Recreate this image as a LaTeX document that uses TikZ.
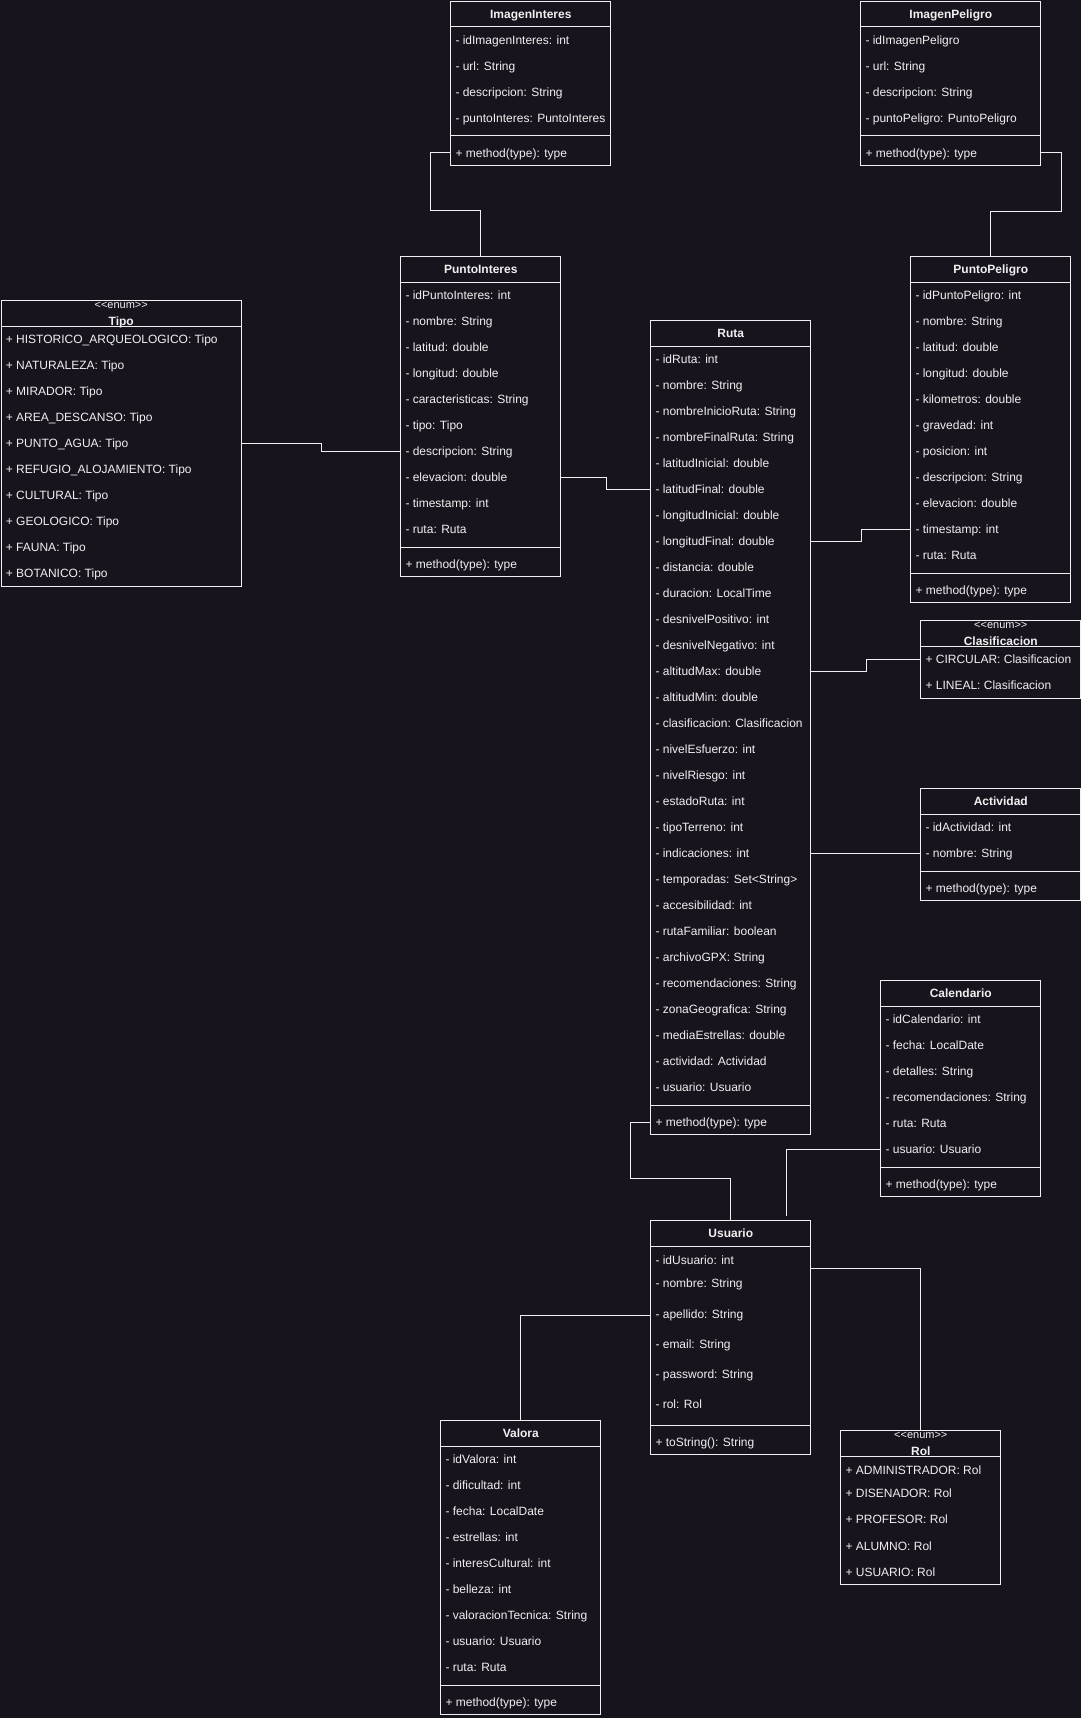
\documentclass[tikz,border=0pt]{standalone}
\usepackage{fontspec}
\setmainfont{Liberation Sans}
\usetikzlibrary{calc}

\definecolor{umlbg}{HTML}{18141D}
\definecolor{umlline}{HTML}{F0F0F0}
\definecolor{umltext}{HTML}{F0F0F0}

\tikzset{
  box/.style={draw=umlline, line width=1pt, anchor=north west, minimum width=160pt, inner sep=0pt},
  title/.style={text=umltext, font=\fontsize{12}{14}\selectfont\bfseries, inner sep=0pt, text height=9pt, text depth=0pt},
  stereo/.style={text=umltext, font=\fontsize{11}{13}\selectfont, inner sep=0pt, text height=5.6pt, text depth=0pt},
  field/.style={anchor=west, text=umltext, font=\fontsize{12}{14}\selectfont, inner sep=0pt, text height=9pt, text depth=0pt},
  link/.style={draw=umlline, line width=1pt},
}

\begin{document}
\begin{tikzpicture}[x=1pt,y=-1pt]
\def\classframe#1#2#3#4{ % #1 Name, #2 Top left, #3 Number of fields, #4 Title
\node[box, minimum height={60+26*#3}] (#1) at (#2) {};
\node[title] at ($(#1.north)+(0,13)$) {#4};
\draw[link] ($(#1.north west)+(0,26)$) -- ($(#1.north east)+(0,26)$);
\draw[link] ($(#1.south west)+(0,-30)$) -- ($(#1.south east)+(0,-30)$);
\node[field] (#1m) at ($(#1.south west)+(5,-13)$) {+ method(type): type};
}
\def\enumframe#1#2#3#4#5{ % #1 Name, #2 Top left, #3 Width, #4 Height, #5 Title
\node[box, minimum width=#3, minimum height=#4] (#1) at (#2) {};
\node[stereo] at ($(#1.north)+(0,5.4)$) {<\kern0pt<enum>\kern0pt>};
\node[title] at ($(#1.north)+(0,20.7)$) {#5};
\draw[link] ($(#1.north west)+(0,26)$) -- ($(#1.north east)+(0,26)$);
}

%background
\fill[umlbg] (0,0) rectangle (1081,1718);

%image classes

\classframe{imgint}{450.3,0.7}{4}{ImagenInteres}
\foreach \t [count=\i] in {idImagenInteres: int, url: String, descripcion: String, puntoInteres: PuntoInteres}
  \node[field] (imgint\i) at ($(imgint.north west)+(5,{13+26*\i})$) {- \t};

\begin{scope}[box/.append style={minimum width=180pt}]
\classframe{imgpel}{860.3,0.7}{4}{ImagenPeligro}
\end{scope}
\foreach \t [count=\i] in {idImagenPeligro, url: String, descripcion: String, puntoPeligro: PuntoPeligro}
  \node[field] (imgpel\i) at ($(imgpel.north west)+(5,{13+26*\i})$) {- \t};

%points

\classframe{ptoint}{400.3,256.3}{10}{PuntoInteres}
\foreach \t [count=\i] in {idPuntoInteres: int, nombre: String, latitud: double, longitud: double, caracteristicas: String, tipo: Tipo, descripcion: String, elevacion: double, timestamp: int, ruta: Ruta}
  \node[field] (ptoint\i) at ($(ptoint.north west)+(5,{13+26*\i})$) {- \t};

\classframe{ptopel}{910.3,256.3}{11}{PuntoPeligro}
\foreach \t [count=\i] in {idPuntoPeligro: int, nombre: String, latitud: double, longitud: double, kilometros: double, gravedad: int, posicion: int, descripcion: String, elevacion: double, timestamp: int, ruta: Ruta}
  \node[field] (ptopel\i) at ($(ptopel.north west)+(5,{13+26*\i})$) {- \t};

%enums

\enumframe{tipo}{0.7,300.3}{240pt}{286pt}{Tipo}
\foreach \t [count=\i] in {HISTORICO\_ARQUEOLOGICO, NATURALEZA, MIRADOR, AREA\_DESCANSO, PUNTO\_AGUA, REFUGIO\_ALOJAMIENTO, CULTURAL, GEOLOGICO, FAUNA, BOTANICO}
  \node[field] (tipo\i) at ($(tipo.north west)+(5,{13+26*\i})$) {+ \t: Tipo};

\enumframe{clasif}{920.3,620.3}{160pt}{78pt}{Clasificacion}
\foreach \t [count=\i] in {CIRCULAR, LINEAL}
  \node[field] (clasif\i) at ($(clasif.north west)+(5,{13+26*\i})$) {+ \t: Clasificacion};

\enumframe{rol}{840.3,1430.3}{160pt}{153.7pt}{Rol}
\foreach \t/\dy [count=\i] in {ADMINISTRADOR/39.7, DISENADOR/63, PROFESOR/89, ALUMNO/115.4, USUARIO/141.7}
  \node[field] (rol\i) at ($(rol.north west)+(5,\dy)$) {+ \t: Rol};

%main class

\classframe{ruta}{650.3,320.3}{29}{Ruta}
\foreach \t [count=\i] in {idRuta: int, nombre: String, nombreInicioRuta: String, nombreFinalRuta: String, latitudInicial: double, latitudFinal: double, longitudInicial: double, longitudFinal: double, distancia: double, duracion: LocalTime, desnivelPositivo: int, desnivelNegativo: int, altitudMax: double, altitudMin: double, clasificacion: Clasificacion, nivelEsfuerzo: int, nivelRiesgo: int, estadoRuta: int, tipoTerreno: int, indicaciones: int, temporadas: Set<String>, accesibilidad: int, rutaFamiliar: boolean, archivoGPX: String, recomendaciones: String, zonaGeografica: String, mediaEstrellas: double, actividad: Actividad, usuario: Usuario}
  \node[field] (ruta\i) at ($(ruta.north west)+(5,{13+26*\i})$) {- \t};

\classframe{activ}{920.3,788.3}{2}{Actividad}
\foreach \t [count=\i] in {idActividad: int, nombre: String}
  \node[field] (activ\i) at ($(activ.north west)+(5,{13+26*\i})$) {- \t};

\classframe{cal}{880.3,980.3}{6}{Calendario}
\foreach \t [count=\i] in {idCalendario: int, fecha: LocalDate, detalles: String, recomendaciones: String, ruta: Ruta, usuario: Usuario}
  \node[field] (cal\i) at ($(cal.north west)+(5,{13+26*\i})$) {- \t};

%user and ratings

\node[box, minimum height=233.7pt] (usuario) at (650.3,1220.3) {};
\node[title] at ($(usuario.north)+(0,13)$) {Usuario};
\draw[link] ($(usuario.north west)+(0,26)$) -- ($(usuario.north east)+(0,26)$);
\draw[link] ($(usuario.south west)+(0,-29.7)$) -- ($(usuario.south east)+(0,-29.7)$);
\foreach \t/\dy [count=\i] in {idUsuario: int/39.7, nombre: String/63, apellido: String/93.4, email: String/123.4, password: String/153.4, rol: Rol/183.4}
  \node[field] (usuario\i) at ($(usuario.north west)+(5,\dy)$) {- \t};
\node[field] (usuariom) at ($(usuario.south west)+(5,-13)$) {+ toString(): String};

\classframe{valora}{440.3,1420.3}{9}{Valora}
\foreach \t [count=\i] in {idValora: int, dificultad: int, fecha: LocalDate, estrellas: int, interesCultural: int, belleza: int, valoracionTecnica: String, usuario: Usuario, ruta: Ruta}
  \node[field] (valora\i) at ($(valora.north west)+(5,{13+26*\i})$) {- \t};

%associations

\draw[link] (imgint.west |- imgintm) -- ++(-20,0) -- ++(0,57.3) -| (ptoint.north);
\draw[link] (imgpel.east |- imgpelm) -- ++(20,0) -- ++(0,58.3) -| (ptopel.north);
\draw[link] (tipo.east |- tipo5) -- ++(80,0) |- (ptoint.west |- ptoint7);
\draw[link] (ptoint.east |- ptoint8) -- ++(45,0) |- (ruta.west |- ruta6);
\draw[link] (ruta.east |- ruta8) -- ++(50,0) |- (ptopel.west |- ptopel10);
\draw[link] (ruta.east |- ruta13) -- ++(55,0) |- (clasif.west |- clasif1);
\draw[link] (ruta.east |- ruta20) -- (activ.west |- activ2);
\draw[link] (ruta.west |- rutam) -- ++(-20,0) -- ++(0,56) -| (usuario.north);

\coordinate (calend) at (786.3,1216);
\draw[link] (cal.west |- cal6) -| (calend);
\draw[link] ($(usuario.north east)+(0,48)$) -| (rol.north);
\draw[link] ($(usuario.north west)+(0,94.7)$) -| (valora.north);
\end{tikzpicture}
\end{document}
